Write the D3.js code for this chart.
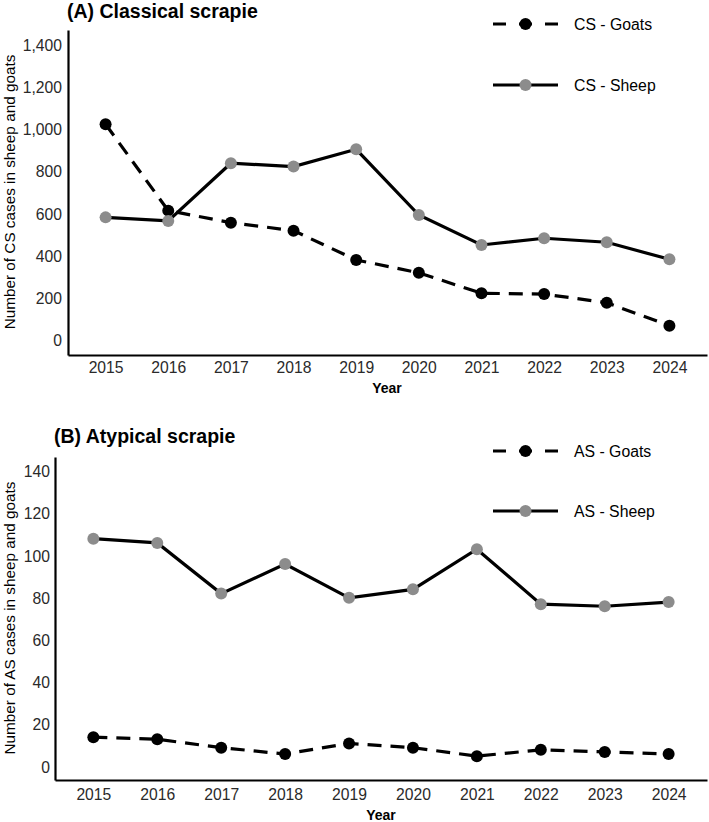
<!DOCTYPE html>
<html><head><meta charset="utf-8">
<script src="https://cdn.jsdelivr.net/npm/d3@7"></script>
<style>
body{margin:0;background:#fff;}
svg{display:block;font-family:"Liberation Sans",Arial,Helvetica,sans-serif;}
</style></head>
<body><svg id="c" width="709" height="822"></svg>
<script>
const years = [2015,2016,2017,2018,2019,2020,2021,2022,2023,2024];
const csGoats = [1024,614,557,519,380,319,222,218,177,68];
const csSheep = [582,565,839,823,905,593,451,483,464,383];
const asGoats = [14,13,9,6,11,9,5,8,7,6];
const asSheep = [108,106,82,96,80,84,103,77,76,78];
const csTicks = [0,200,400,600,800,1000,1200,1400];
const asTicks = [0,20,40,60,80,100,120,140];

const svg = d3.select("#c");

function panel(o){
  const g = svg.append("g");
  const x = d3.scalePoint().domain(years).range([o.left,707]).padding(0.6);
  const y = d3.scaleLinear().domain(o.ydom).range([o.bottom,o.top]);
  const xa = d3.axisBottom(x).tickSize(0).tickPadding(o.xpad);
  const ya = d3.axisLeft(y).tickValues(o.ticks).tickSize(0).tickPadding(o.ypad).tickFormat(d3.format(","));
  const gx = g.append("g").attr("transform",`translate(0,${o.bottom})`).call(xa);
  const gy = g.append("g").attr("transform",`translate(${o.left},0)`).call(ya);
  [gx,gy].forEach(a=>{
    a.select(".domain").attr("stroke","#000").attr("stroke-width",2.2);
    a.selectAll("text").attr("fill","#2a2a2a").style("font-size","15.7px").style("font-family","Liberation Sans, Arial, sans-serif");
  });
  gy.selectAll(".tick text").attr("dy","0.35em");
  g.append("text").attr("x",o.titleX).attr("y",o.titleY).attr("font-weight","bold").attr("font-size",19.5).attr("fill","#000").text(o.title);
  g.append("text").attr("x",o.yearX).attr("y",o.yearY).attr("text-anchor","middle").attr("font-weight","bold").attr("font-size",14).attr("fill","#000").text("Year");
  g.append("text").attr("transform",`translate(${o.ylabX},${o.ylabY}) rotate(-90)`).attr("text-anchor","middle").attr("font-size",15.3).attr("fill","#000").text(o.ylab);
  const line = d3.line().x((d,i)=>x(years[i])).y(d=>y(d));
  g.append("path").datum(o.goats).attr("d",line).attr("fill","none").attr("stroke","#000").attr("stroke-width",3.2).attr("stroke-dasharray","14,9");
  g.selectAll(".gc").data(o.goats).enter().append("circle").attr("cx",(d,i)=>x(years[i])).attr("cy",d=>y(d)).attr("r",6).attr("fill","#000");
  g.append("path").datum(o.sheep).attr("d",line).attr("fill","none").attr("stroke","#000").attr("stroke-width",3.2);
  g.selectAll(".sc").data(o.sheep).enter().append("circle").attr("cx",(d,i)=>x(years[i])).attr("cy",d=>y(d)).attr("r",6).attr("fill","#8c8c8c");
  const L = [{y:o.legY1,dash:"13,13",fill:"#000",label:o.leg1},{y:o.legY2,dash:null,fill:"#8c8c8c",label:o.leg2}];
  L.forEach(l=>{
    g.append("line").attr("x1",493).attr("x2",558).attr("y1",l.y).attr("y2",l.y).attr("stroke","#000").attr("stroke-width",3.2).attr("stroke-dasharray",l.dash);
    g.append("circle").attr("cx",525.5).attr("cy",l.y).attr("r",6).attr("fill",l.fill);
    g.append("text").attr("x",574).attr("y",l.y).attr("dy","0.35em").attr("font-size",15.8).attr("fill","#000").text(l.label);
  });
}

panel({left:68,top:30,bottom:355,ydom:[-71,1471],ticks:csTicks,goats:csGoats,sheep:csSheep,xpad:7,ypad:6,
  title:"(A) Classical scrapie",titleX:67,titleY:18,yearX:387,yearY:393,ylabX:15,ylabY:192,
  ylab:"Number of CS cases in sheep and goats",legY1:24,legY2:85,leg1:"CS - Goats",leg2:"CS - Sheep"});
panel({left:55,top:457,bottom:780,ydom:[-6.3,146.7],ticks:asTicks,goats:asGoats,sheep:asSheep,xpad:9,ypad:5,
  title:"(B) Atypical scrapie",titleX:54,titleY:443,yearX:381,yearY:820,ylabX:15,ylabY:618,
  ylab:"Number of AS cases in sheep and goats",legY1:451,legY2:511,leg1:"AS - Goats",leg2:"AS - Sheep"});
</script></body></html>
